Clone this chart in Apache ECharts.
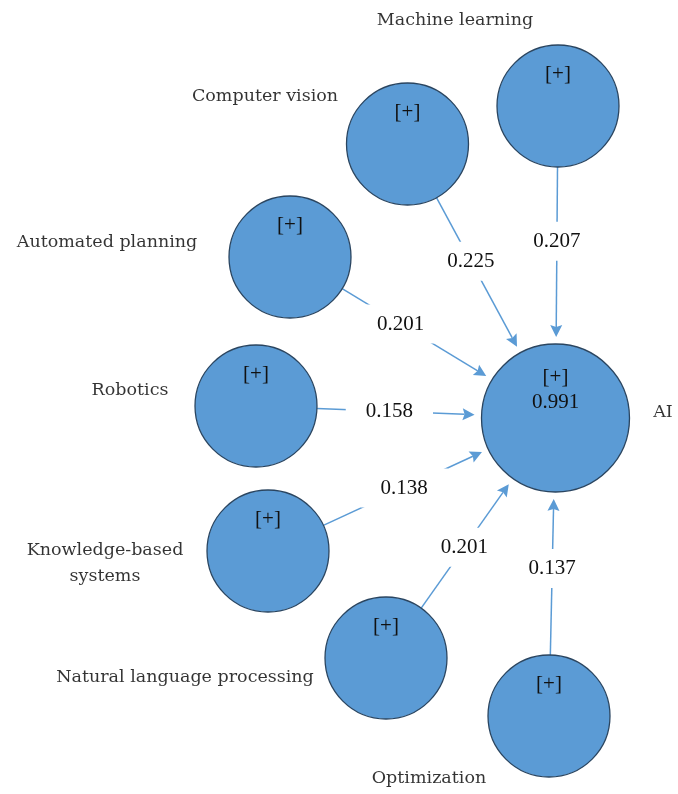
<!DOCTYPE html>
<html>
<head>
<meta charset="utf-8">
<script src="https://cdn.jsdelivr.net/npm/echarts@6/dist/echarts.min.js"></script>
<style>
  html, body { margin: 0; padding: 0; background: #ffffff; }
  #chart { width: 678px; height: 794px; }
</style>
</head>
<body>
<div id="chart"></div>
<script>
// ---------------- data ----------------
const constructs = [
  'Machine learning',
  'Computer vision',
  'Automated planning',
  'Robotics',
  'Knowledge-based\nsystems',
  'Natural language processing',
  'Optimization'
];
const pathCoefficients = [0.207, 0.225, 0.201, 0.158, 0.138, 0.201, 0.137];
const targetConstruct = 'AI';
const targetRSquared = 0.991;
const constructSign = '[+]';

// ---------------- layout (diagram space, 678 x 794) ----------------
const nodeCenterX = [558, 407.5, 290, 256, 268, 386, 549];
const nodeCenterY = [106, 144, 257, 406, 551, 658, 716];
const targetCenter = [555.5, 418];
const sourceDiameter = 122;
const targetDiameter = 148;
const nameOffsetX = [-103, -142.5, -183, -126, -163, -201, -120];
const nameOffsetY = [-86, -48, -15, -16, 12.5, 19, 62];
const targetNameOffset = [107.5, -6];
const coefLabelAt = [0.42, 0.41, 0.39, 0.44, 0.49, 0.47, 0.53];

// ---------------- styles ----------------
const fillBlue = '#5b9bd5';
const borderDark = '#2a4560';
const lineBlue = '#5b9bd5';
const textColor = '#111111';
const numFont = '21px "Liberation Serif", "Times New Roman", serif';
const nameFontFamily = '"DejaVu Serif", serif';

const chart = echarts.init(document.getElementById('chart'), null, { renderer: 'canvas' });

const edgeData = pathCoefficients.map((c, i) => [nodeCenterX[i], nodeCenterY[i], targetCenter[0], targetCenter[1], c]);

const nodeData = constructs.map((n, i) => ({
  name: n,
  value: [nodeCenterX[i], nodeCenterY[i]],
  symbolSize: sourceDiameter,
  label: { formatter: constructSign, offset: [0, -32] }
}));
nodeData.push({
  name: targetConstruct,
  value: targetCenter,
  symbolSize: targetDiameter,
  label: { formatter: constructSign + '\n' + targetRSquared.toFixed(3), offset: [0, -28], lineHeight: 25 }
});

const nameData = constructs.map((n, i) => ({
  name: n,
  value: [nodeCenterX[i], nodeCenterY[i]],
  label: { offset: [nameOffsetX[i], nameOffsetY[i]] }
}));
nameData.push({ name: targetConstruct, value: targetCenter, label: { offset: targetNameOffset } });

function renderEdge(params, api) {
  const i = params.dataIndex;
  const s = api.coord([api.value(0), api.value(1)]);
  const t = api.coord([api.value(2), api.value(3)]);
  const dx = t[0] - s[0], dy = t[1] - s[1];
  const L = Math.sqrt(dx * dx + dy * dy);
  const ux = dx / L, uy = dy / L;
  const rs = sourceDiameter / 2, rt = targetDiameter / 2;
  const gap = 7, arrowLen = 12, arrowHalf = 6, notch = 2;
  const start = [s[0] + ux * rs, s[1] + uy * rs];
  const tip = [t[0] - ux * (rt + gap), t[1] - uy * (rt + gap)];
  const back = [tip[0] - ux * arrowLen, tip[1] - uy * arrowLen];
  const notchPt = [tip[0] - ux * (arrowLen - notch), tip[1] - uy * (arrowLen - notch)];
  const px = -uy, py = ux;
  const inner = L - rs - rt;
  const f = coefLabelAt[i];
  const lab = [start[0] + ux * inner * f, start[1] + uy * inner * f];
  return {
    type: 'group',
    children: [
      {
        type: 'line',
        shape: { x1: start[0], y1: start[1], x2: notchPt[0], y2: notchPt[1] },
        style: { stroke: lineBlue, lineWidth: 1.5 }
      },
      {
        type: 'polygon',
        shape: { points: [tip, [back[0] + px * arrowHalf, back[1] + py * arrowHalf], notchPt, [back[0] - px * arrowHalf, back[1] - py * arrowHalf]] },
        style: { fill: lineBlue }
      },
      {
        type: 'text',
        x: lab[0], y: lab[1],
        style: {
          text: api.value(4).toFixed(3),
          font: numFont,
          fill: textColor,
          align: 'center',
          verticalAlign: 'middle',
          backgroundColor: '#ffffff',
          padding: [9, 20]
        }
      }
    ]
  };
}

chart.setOption({
  animation: false,
  backgroundColor: '#ffffff',
  grid: { left: 0, right: 0, top: 0, bottom: 0 },
  xAxis: { type: 'value', min: 0, max: 678, show: false },
  yAxis: { type: 'value', min: 0, max: 794, inverse: true, show: false },
  series: [
    {
      type: 'custom',
      z: 1,
      clip: false,
      renderItem: renderEdge,
      encode: { x: [0, 2], y: [1, 3] },
      data: edgeData
    },
    {
      type: 'scatter',
      z: 2,
      data: nodeData,
      itemStyle: { color: fillBlue, borderColor: borderDark, borderWidth: 1.3, opacity: 1 },
      label: {
        show: true,
        position: 'inside',
        color: textColor,
        fontFamily: '"Liberation Serif", serif',
        fontSize: 21,
        align: 'center',
        verticalAlign: 'middle'
      },
      emphasis: { disabled: true },
      silent: true
    },
    {
      type: 'scatter',
      z: 3,
      symbolSize: 1,
      data: nameData,
      itemStyle: { color: 'rgba(255,255,255,0)', borderWidth: 0 },
      label: {
        show: true,
        position: 'inside',
        formatter: '{b}',
        color: '#000000',
        fontFamily: nameFontFamily,
        fontSize: 17.5,
        lineHeight: 26,
        align: 'center',
        verticalAlign: 'middle'
      },
      emphasis: { disabled: true },
      silent: true
    }
  ]
});
</script>
</body>
</html>
